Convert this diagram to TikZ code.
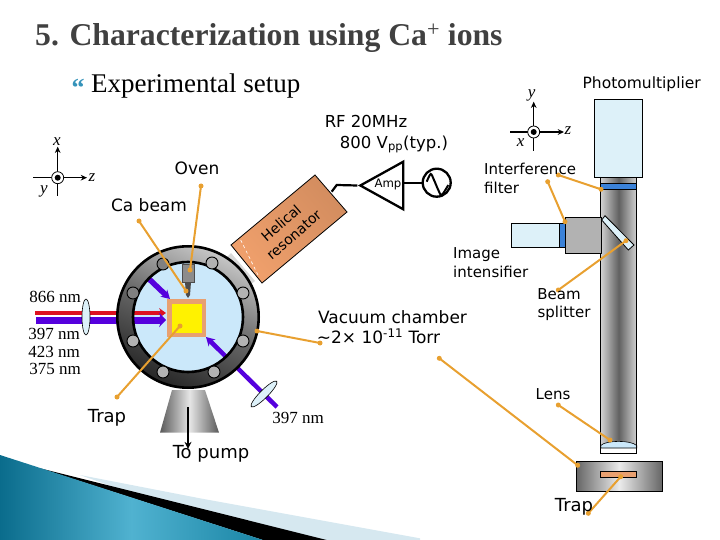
\documentclass[tikz,border=0pt]{standalone}
\usepackage{fontspec}
\setmainfont{Liberation Serif}
\newfontfamily\labelfont{DejaVu Sans}
\usepackage{xcolor}
\usetikzlibrary{arrows.meta, positioning, shapes.geometric}
\definecolor{leadercol}{HTML}{E8A030}
\definecolor{glasscol}{HTML}{DDF1F9}
\definecolor{vaccol}{HTML}{CBE8FA}
\definecolor{beamcol}{HTML}{5500DD}
\definecolor{redcol}{HTML}{DD1122}
\definecolor{filtercol}{HTML}{3B82D8}
\definecolor{salmoncol}{HTML}{E8A070}
\definecolor{rescol}{HTML}{F0A06C}
\definecolor{bandcol}{HTML}{D6E8F0}
\definecolor{tealA}{HTML}{0A6C8C}
\definecolor{tealB}{HTML}{50B2D0}
\definecolor{tealC}{HTML}{1A85A5}
\begin{document}
\begin{tikzpicture}[
    x=1pt, y=-1pt,
    lbl/.style={font=\labelfont\fontsize{17}{19}\selectfont, align=center, inner sep=0pt},
    lblwide/.style={font=\labelfont\fontsize{18}{20}\selectfont, align=center, inner sep=0pt},
    lblleft/.style={font=\labelfont\fontsize{15}{19}\selectfont, align=left, anchor=west, inner sep=0pt},
    nm/.style={font=\fontsize{17}{18}\selectfont, inner sep=0pt},
    ax/.style={font=\itshape\fontsize{17}{18}\selectfont, inner sep=0pt},
    box/.style={rectangle, draw, line width=0.8pt, inner sep=0pt},
    dot/.style={circle, fill=leadercol, inner sep=0pt, minimum size=5pt},
    leader/.style={leadercol, line width=2pt, shorten >=-1pt, shorten <=-1pt},
    bolt/.style={circle, draw=black, line width=0.9pt, inner sep=0pt, minimum size=12pt},
    axline/.style={-{Stealth[length=2.2mm,width=2mm]}, line width=1.2pt},
    wire/.style={line width=2.2pt},
    beam/.style={beamcol, line width=5.5pt, -{Stealth[length=3mm,width=3.4mm]}},
    lensfill/.style={draw, line width=0.6pt, fill=glasscol}
]
\useasboundingbox (0,0) rectangle (720,540);

\fill[bandcol] (80,475) -- (200,498.3) -- (420,538.3) -- (420,540) -- (263,540) -- cycle;
\fill[black] (40,468.3) -- (200,508.3) -- (326.7,540) -- (263,540) -- cycle;
\shade[left color=tealA, right color=tealC, middle color=tealB] (0,455) -- (263,540) -- (0,540) -- cycle;

\node[font=\bfseries\fontsize{31.7}{34}\selectfont, text=black!75, anchor=west, inner sep=0pt] (title) at (35,38) {5. Characterization using Ca\textsuperscript{\mdseries +} ions};
\node[font=\bfseries\fontsize{26}{28}\selectfont, text=cyan!45!teal, inner sep=0pt] (bullet) at (78,88) {“};
\node[font=\fontsize{27}{29}\selectfont, anchor=west, inner sep=0pt] (setup) at (91,86) {Experimental setup};

\coordinate (axAw) at (33,177.7);  \coordinate (axAe) at (87,177.7);
\coordinate (axAs) at (57.7,196);  \coordinate (axAn) at (57.7,146.7);
\draw[axline] (axAw) -- (axAe);
\draw[axline] (axAs) -- (axAn);
\node[circle, draw, fill=white, line width=0.8pt, minimum size=12pt, inner sep=0pt] (axA) at (57.7,177.7) {};
\fill (axA.center) circle[radius=3pt];
\node[ax] (axAx) at (57,142) {x};
\node[ax] (axAz) at (92,178) {z};
\node[ax] (axAy) at (44,191) {y};

\coordinate (axBw) at (510,132);   \coordinate (axBe) at (564,132);
\coordinate (axBs) at (533.7,150.7); \coordinate (axBn) at (533.7,101.7);
\draw[axline] (axBw) -- (axBe);
\draw[axline] (axBs) -- (axBn);
\node[circle, draw, fill=white, line width=0.8pt, minimum size=12pt, inner sep=0pt] (axB) at (533.7,132) {};
\fill (axB.center) circle[radius=3pt];
\node[ax] (axBy) at (531.7,95) {y};
\node[ax] (axBz) at (568,130.7) {z};
\node[ax] (axBx) at (520.7,142.7) {x};

\shade[left color=black!65, right color=black!65, middle color=black!10] (172,390) -- (205,390) -- (219,432.7) -- (160,432.7) -- cycle;
\coordinate (pumpIn) at (188,407);
\coordinate (pumpOut) at (188,449);
\draw[-{Stealth[length=2.5mm,width=2.4mm]}, line width=1.2pt] (pumpIn) -- (pumpOut);

\fill[black!15] (231,253) -- (255,281) -- (250,285) -- (226,258) -- cycle;
\shade[left color=rescol, right color=rescol!88!black, shading angle=130, draw=black, line width=0.8pt] (315,175) -- (347,212) -- (262,283) -- (231,245) -- cycle;
\draw[white, dashed, line width=0.6pt] (240.7,240) -- (258,275);
\node[lbl, font=\labelfont\fontsize{14}{16}\selectfont, rotate=41] (helical) at (281,223) {Helical};
\node[lbl, font=\labelfont\fontsize{14}{16}\selectfont, rotate=41] (resonator) at (294,235) {resonator};

\node[circle, fill=vaccol, inner sep=0pt, minimum size=112pt] (vacuum) at (188,317) {};
\draw[redcol, line width=3.6pt, -{Stealth[length=2.4mm,width=3.4mm]}] (35,313) -- (166,313);
\draw[beam, line width=7pt, -{Stealth[length=2.4mm,width=5mm]}] (36,320) -- (166,320);
\node[ellipse, lensfill, minimum width=8pt, minimum height=36pt, inner sep=0pt] (lensA) at (86,317) {};
\coordinate (beamAs) at (148,278);  \coordinate (beamAe) at (170,299);
\draw[beam] (beamAs) -- (beamAe);
\coordinate (beamBs) at (277,407);  \coordinate (beamBe) at (206,337);
\draw[beam, line width=4.5pt] (beamBs) -- (beamBe);
\node[ellipse, lensfill, rotate=-45, minimum width=8pt, minimum height=36pt, inner sep=0pt] (lensB) at (264,394) {};

\shade[even odd rule, left color=black!22, right color=black!85, middle color=black!60, shading angle=-25] (188,317) circle[radius=71pt] (188,317) circle[radius=55pt];
\draw[line width=2.6pt] (188,317) circle[radius=70.7pt];
\draw[line width=2.6pt] (188,317) circle[radius=55pt];
\foreach \bx/\by/\bn/\bs in {163/264/a/50, 212/263/b/30, 133/293/c/50, 243/293/d/30, 133/341/e/30, 243/341/f/30, 163/372/g/30, 214/372/h/30}
  \node[bolt, fill=black!\bs] (bolt\bn) at (\bx,\by) {};

\node[rectangle, fill=black!45, draw=black!70, line width=0.5pt, minimum width=12pt, minimum height=18pt, inner sep=0pt] (oven) at (188,273) {};
\fill[black!70] (185,282) -- (191,282) -- (190,295) -- (188,298) -- (186,295) -- cycle;
\node[rectangle, fill=salmoncol, minimum width=39pt, minimum height=38.5pt, inner sep=0pt] (trapA) at (186.5,318) {};
\node[rectangle, fill=yellow, minimum width=29.5pt, minimum height=29.5pt, inner sep=0pt] (ions) at (187,318.5) {};

\shade[left color=black!18, right color=black!18, middle color=black!62] (600.7,177) rectangle (636.7,453);
\node[box, fill=glasscol, minimum width=48.4pt, minimum height=78pt] (pmt) at (618.5,138.3) {};
\draw[line width=0.8pt] (600.7,177) -- (600.7,453) -- (636.7,453) -- (636.7,177);
\node[box, fill=filtercol, minimum width=36pt, minimum height=6pt] (filterTop) at (618.7,186) {};
\node[box, fill=black!30, minimum width=36.7pt, minimum height=36.3pt] (intens) at (583.3,235.2) {};
\node[box, fill=filtercol, minimum width=5.7pt, minimum height=24pt] (filterSide) at (562.2,235.3) {};
\node[box, fill=glasscol, minimum width=48pt, minimum height=24pt] (camera) at (535.3,235.3) {};
\draw[lensfill, line width=0.8pt] (605,215.7) -- (634,245) -- (628.3,250) -- (601.7,220) -- cycle;
\fill[white] (600.7,446) .. controls (606,440) and (631,440) .. (636.7,446) -- (636.7,453) -- (600.7,453) -- cycle;
\draw[line width=0.6pt, fill=vaccol] (600.7,448) -- (600.7,445.5) .. controls (606,440) and (631,440) .. (636.7,445.5) -- (636.7,448) -- cycle;
\draw[line width=0.8pt] (600.7,440) -- (600.7,453) -- (636.7,453) -- (636.7,440);

\shade[left color=black!60, right color=black!60, middle color=black!8, draw=black, line width=0.8pt] (576.3,461.3) rectangle (662.3,491.3);
\node[box, fill=salmoncol, minimum width=36.4pt, minimum height=6pt] (trapB) at (618.5,474.3) {};

\node[isosceles triangle, isosceles triangle stretches, shape border rotate=180, draw, line width=2.3pt, minimum width=47.6pt, minimum height=43pt, inner sep=0pt, anchor=apex] (amp) at (357.3,185.5) {};
\node[lbl, font=\labelfont\fontsize{11.7}{13}\selectfont] (amplbl) at (388,184) {Amp};
\node[circle, draw, line width=2.3pt, minimum size=28pt, inner sep=0pt] (source) at (436.7,182.7) {};
\coordinate (resEnd) at (331.7,191.7);
\draw[wire] (resEnd) -- (336.7,185) -- (amp.apex);
\draw[wire] (amp.east |- source.west) -- (source.west);
\draw[line width=2pt] plot[smooth] coordinates {(426.7,181.7) (430.7,174) (434,180) (438.3,190) (441.7,195) (448.3,185)};

\foreach \ln/\ax/\ay/\bx/\by in {oven/201/186/190/270, ca/139/221/186/291, trapL/117/397/180/326, vac/320/343/257/331, ifA/547.7/181.7/565/221.7, ifB/558.3/175/601/189.3, split/558.3/290/626/240.7, lens/558.3/405/610/440, trapR/439.3/358.3/577.7/465.3, trapS/588.3/513.3/620.7/476.7}{
  \node[dot] (\ln a) at (\ax,\ay) {};
  \node[dot] (\ln b) at (\bx,\by) {};
  \draw[leader] (\ln a) -- (\ln b);
}

\node[lbl] (ovenlbl) at (197,168) {Oven};
\node[lbl] (calbl) at (149,205) {Ca beam};
\node[lblwide] (traplbl) at (107,418) {Trap};
\node[lblwide] (pumplbl) at (211,454) {To pump};
\node[lbl, font=\labelfont\fontsize{16.5}{21}\selectfont] (rflbl) at (366,134) {RF 20MHz\\\hspace*{56pt}800 V\textsubscript{pp}(typ.)};
\node[lbl, font=\labelfont\fontsize{17}{21}\selectfont] (vaclbl) at (392.5,327) {Vacuum chamber\\[-0.5pt]\hspace*{-28pt}\textasciitilde 2× 10\textsuperscript{-11} Torr};
\node[lbl, font=\labelfont\fontsize{15.5}{18}\selectfont] (pmtlbl) at (641.7,84) {Photomultiplier};
\node[lblleft] (iflbl) at (484,178.5) {Interference\\filter};
\node[lblleft] (imglbl) at (453,262.5) {Image\\intensifier};
\node[lbl, font=\labelfont\fontsize{15}{18}\selectfont] (splitlbl) at (564,305) {\hspace*{-10pt}Beam\\splitter};
\node[lbl, font=\labelfont\fontsize{15}{18}\selectfont] (lenslbl) at (553,394) {Lens};
\node[lblwide] (traprlbl) at (574,507) {Trap};
\node[nm] (nmA) at (55,296.7) {866 nm};
\node[nm] (nmB) at (54,334) {397 nm};
\node[nm] (nmC) at (54,352) {423 nm};
\node[nm] (nmD) at (55,369) {375 nm};
\node[nm] (nmE) at (298,418) {397 nm};
\end{tikzpicture}
\end{document}
